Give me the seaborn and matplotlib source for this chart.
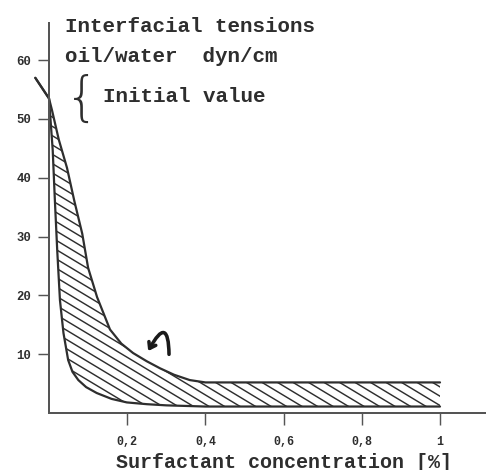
import numpy as np
import matplotlib
matplotlib.use("Agg")
import matplotlib.pyplot as plt
from matplotlib.collections import LineCollection
import seaborn as sns

# ---- data ----
conc_upper = [-0.035, 0.0, 0.008, 0.025, 0.046, 0.065, 0.085, 0.10, 0.123,
              0.156, 0.185, 0.215, 0.25, 0.284, 0.32, 0.36, 0.40, 1.0]
tension_upper = [57.0, 53.5, 51.4, 46.5, 41.7, 36.0, 30.5, 24.7, 19.7,
                 14.2, 11.8, 10.2, 8.8, 7.6, 6.5, 5.6, 5.2, 5.2]

conc_lower = [-0.035, 0.0, 0.0095, 0.015, 0.021, 0.028, 0.037, 0.049,
              0.060, 0.075, 0.095, 0.122, 0.16, 0.199, 0.25, 0.30, 0.40, 1.0]
tension_lower = [57.0, 53.5, 44.7, 36.2, 27.7, 19.2, 13.6, 9.0,
                 7.0, 5.6, 4.4, 3.4, 2.4, 1.8, 1.5, 1.3, 1.1, 1.1]

x_ticks = [0.2, 0.4, 0.6, 0.8, 1.0]
x_ticklabels = ["0,2", "0,4", "0,6", "0,8", "1"]
y_ticks = [10, 20, 30, 40, 50, 60]
y_ticklabels = ["10", "20", "30", "40", "50", "60"]

title_line1 = "Interfacial tensions"
title_line2 = "oil/water  dyn/cm"
legend_text = "Initial value"
x_label = "Surfactant concentration [%]"

# ---- figure ----
sns.set_style("white")
plt.rcParams['font.family'] = ['Liberation Mono', 'DejaVu Sans Mono']

W, H, DPI = 486, 470, 80
fig = plt.figure(figsize=(W / DPI, H / DPI), dpi=DPI)
fig.patch.set_facecolor("white")

ink = "#2e2e2e"

def fx(px):
    return px / W

def fy(py):
    return 1 - py / H

left_px, bottom_px, top_px = 49, 413, 23
ax = fig.add_axes([fx(left_px), fy(bottom_px), 1 - fx(left_px), (bottom_px - top_px) / H])
ax.set_facecolor("white")

ax.set_xlim(0, (W - left_px) / 391.0)
ax.set_ylim(0, (bottom_px - top_px) / 5.88)

# curves
sns.lineplot(x=conc_upper, y=tension_upper, color=ink, lw=2.0, ax=ax,
             clip_on=False, sort=False)
sns.lineplot(x=conc_lower, y=tension_lower, color=ink, lw=2.0, ax=ax,
             clip_on=False, sort=False)

# hatched band between the curves
poly_x = list(conc_upper) + list(conc_lower[::-1])
poly_y = list(tension_upper) + list(tension_lower[::-1])
patch = ax.fill(poly_x, poly_y, facecolor="none", edgecolor="none")[0]

fig.canvas.draw()
bb = ax.get_window_extent()
slope_px = -0.6
m = slope_px * bb.width / bb.height
dx = 15.5 / bb.width
segs = []
for b in np.arange(-0.5, 2.5, abs(m) * dx):
    segs.append([(-0.2, b + m * -0.2), (1.3, b + m * 1.3)])
lc = LineCollection(segs, colors=ink, linewidths=1.3, transform=ax.transAxes)
lc.set_clip_path(patch)
ax.add_collection(lc)

# hand-drawn arrow
ax.annotate("", xy=(0.251, 10.2), xytext=(0.307, 9.6),
            arrowprops=dict(arrowstyle="->,head_length=0.5,head_width=0.35",
                            connectionstyle="angle3,angleA=90,angleB=62",
                            color="#1a1a1a", lw=3.2))

# axes styling
for s in ["top", "right"]:
    ax.spines[s].set_visible(False)
for s in ["left", "bottom"]:
    ax.spines[s].set_color("#555555")
    ax.spines[s].set_linewidth(1.8)

ax.set_xticks(x_ticks)
ax.set_xticklabels(x_ticklabels, fontsize=10.5, fontweight="bold", color=ink)
ax.set_yticks(y_ticks)
ax.set_yticklabels(y_ticklabels, fontsize=11, fontweight="bold", color=ink)
ax.tick_params(axis="x", bottom=True, direction="out", length=11, width=1.3,
               color="#555555", pad=10)
ax.tick_params(axis="y", left=True, direction="out", length=10, width=1.3,
               color="#555555", pad=6)
ax.grid(False)

# texts
fs = 18.8
fig.text(fx(65), fy(26), title_line1, fontsize=fs, fontweight="bold", color=ink,
         ha="left", va="center")
fig.text(fx(65), fy(57), title_line2, fontsize=fs, fontweight="bold", color=ink,
         ha="left", va="center")
fig.text(fx(82), fy(100), "{", fontsize=48, color=ink, ha="center", va="center",
         family="DejaVu Sans", fontweight="light")
fig.text(fx(103), fy(97), legend_text, fontsize=fs, fontweight="bold", color=ink,
         ha="left", va="center")
fig.text(fx(284), fy(462), x_label, fontsize=18, fontweight="bold", color=ink,
         ha="center", va="center")

fig.savefig("out.png", dpi=DPI, facecolor="white")
